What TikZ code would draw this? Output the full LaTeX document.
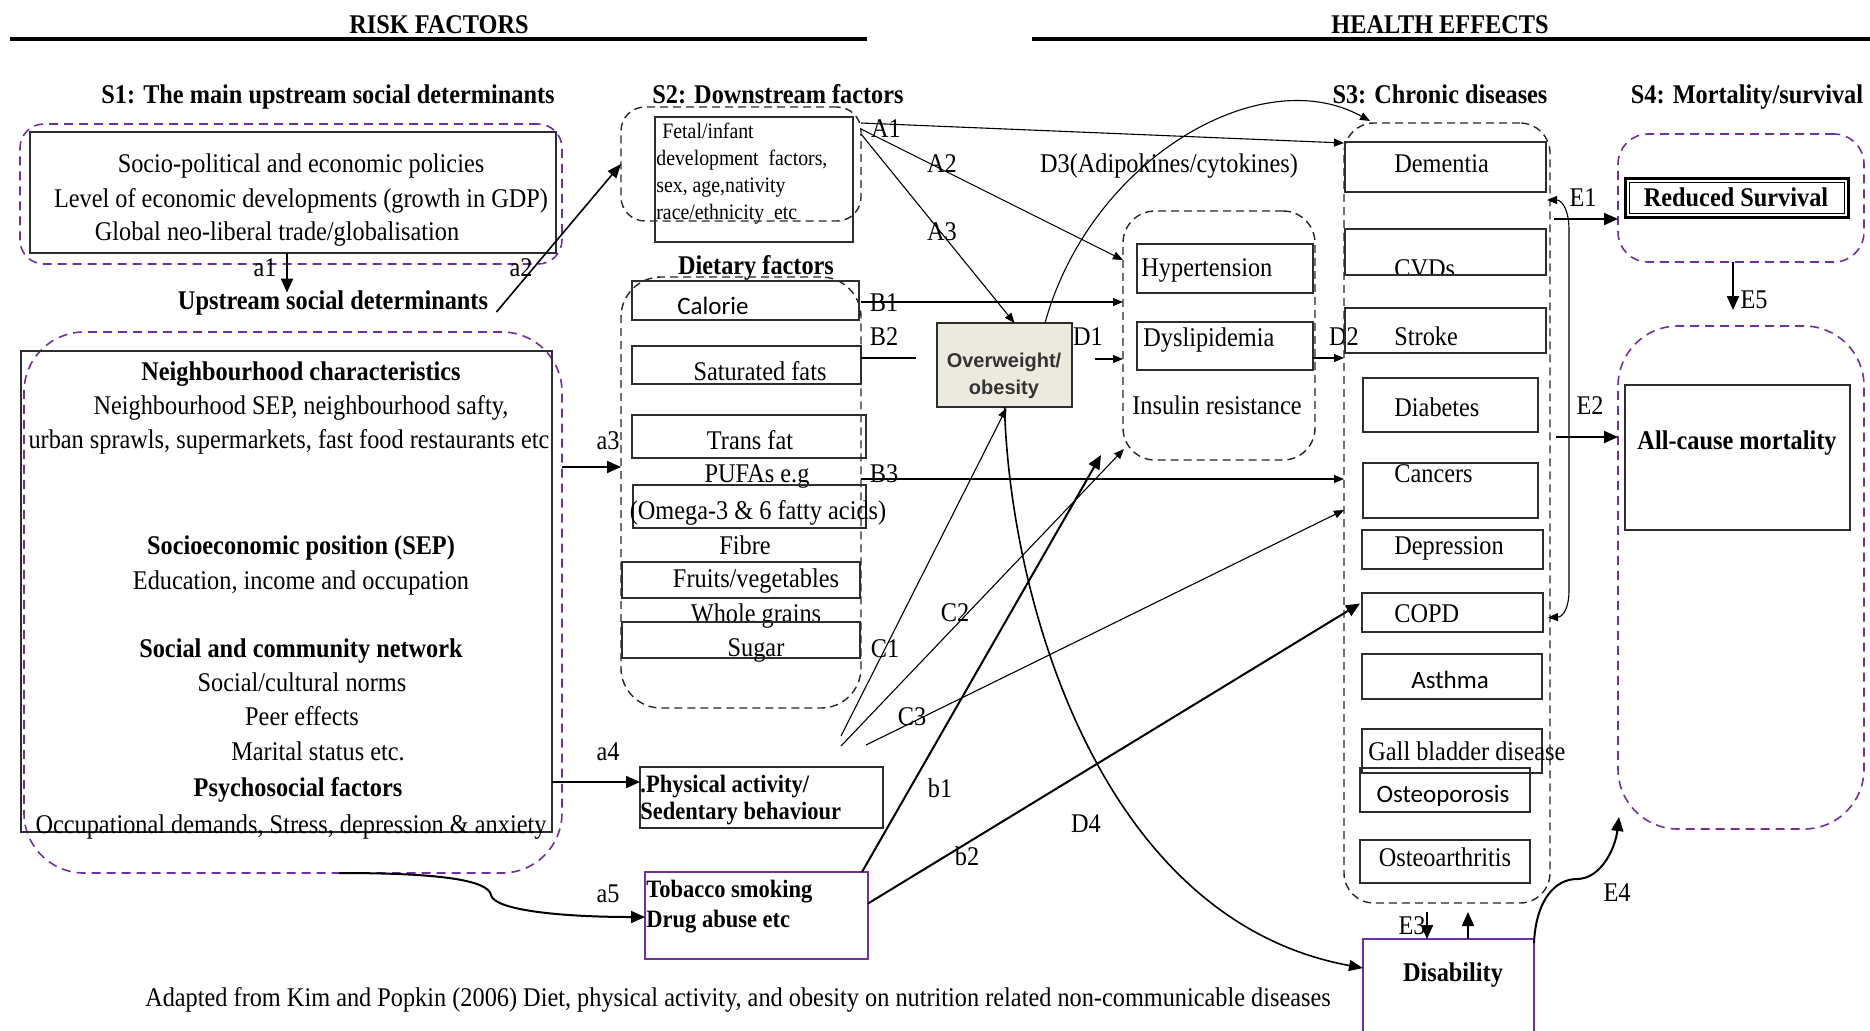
\documentclass[tikz,border=0pt]{standalone}
\usepackage{fontspec}
\setmainfont{Liberation Serif}[FakeStretch=0.9]
\newfontfamily\calfont{Carlito}
\newfontfamily\arialfont{Liberation Sans}
\usetikzlibrary{arrows.meta,calc}
\definecolor{violetline}{RGB}{112,48,160}
\definecolor{obesefill}{RGB}{236,233,223}
\definecolor{boxline}{RGB}{45,45,45}

% rectangle node spanning corner (#3,#4) to corner (#5,#6), in picture units
\newcommand\rectnode[6][]{%
  \node[#1, inner sep=0pt, outer sep=0pt,
        minimum width={(#5-#3)*0.5pt}, minimum height={(#6-#4)*0.5pt}]
        (#2) at ({(#3+#5)/2},{(#4+#6)/2}) {};}

\tikzset{
  txt/.style={inner sep=0pt, text height=0.9em, text depth=0em,
              font=\fontsize{13.5}{16}\selectfont},
  btxt/.style={txt, font=\fontsize{13.5}{16}\selectfont\bfseries},
  stxt/.style={txt, font=\calfont\fontsize{12.5}{15}\selectfont},
  box/.style={draw=boxline, line width=0.9pt},
  pbox/.style={draw=violetline, line width=0.9pt},
  grp/.style={draw=black!85, line width=0.7pt, dash pattern=on 4pt off 2.5pt},
  pgrp/.style={draw=violetline, line width=0.8pt, dash pattern=on 4.5pt off 3pt},
  tarr/.style={line width=0.55pt, -{Triangle[length=5pt,width=4pt]}},
  marr/.style={line width=0.8pt, -{Triangle[length=7pt,width=5.5pt]}},
  karr/.style={line width=1pt, -{Triangle[length=7pt,width=6pt]}},
}

\begin{document}
\begin{tikzpicture}[x=0.5pt,y=-0.5pt]
\useasboundingbox (0,0) rectangle (1870,1030);

% ---------- headings ----------
\node[btxt] (riskhdr) at (439,24) {RISK FACTORS};
\node[btxt] (healthhdr) at (1440,24) {HEALTH EFFECTS};
\draw[line width=1.7pt] (10,39) -- (867,39);
\draw[line width=1.7pt] (1032,39) -- (1870,39);
\node[btxt] (s1hdr) at (328,94) {S1: The main upstream social determinants};
\node[btxt] (s2hdr) at (778,94) {S2: Downstream factors};
\node[btxt] (s3hdr) at (1440,94) {S3: Chronic diseases};
\node[btxt] (s4hdr) at (1747,94) {S4: Mortality/survival};

% ---------- S1: upstream determinants ----------
\rectnode[pgrp, rounded corners=12pt]{s1grp}{20}{124}{562}{264}
\rectnode[box]{upbox}{30}{132}{556}{253}
\node[txt] (up1) at (301,163) {Socio-political and economic policies};
\node[txt] (up2) at (301,198) {Level of economic developments (growth in GDP)};
\node[txt] (up3) at (277,231) {Global neo-liberal trade/globalisation};
\node[btxt] (upsd) at (333,300) {Upstream social determinants};
\node[txt] (la1) at (265,267) {a1};
\node[txt] (la2) at (521,267) {a2};

\rectnode[pgrp, rounded corners=30pt]{s1big}{24}{332}{562}{873}
\rectnode[box]{socbox}{21}{351}{552}{832}
\node[btxt] (n1) at (301,371) {Neighbourhood characteristics};
\node[txt] (n2) at (301,405) {Neighbourhood SEP, neighbourhood safty,};
\node[txt] (n3) at (289,439) {urban sprawls, supermarkets, fast food restaurants etc};
\node[btxt] (n4) at (301,545) {Socioeconomic position (SEP)};
\node[txt] (n5) at (301,580) {Education, income and occupation};
\node[btxt] (n6) at (301,648) {Social and community network};
\node[txt] (n7) at (302,682) {Social/cultural norms};
\node[txt] (n8) at (302,716) {Peer effects};
\node[txt] (n9) at (318,751) {Marital status etc.};
\node[btxt] (n10) at (298,787) {Psychosocial factors};
\node[txt] (n11) at (291,824) {Occupational demands, Stress, depression \& anxiety};
\node[txt] (la3) at (608,440) {a3};
\node[txt] (la4) at (608,751) {a4};
\node[txt] (la5) at (608,893) {a5};

% ---------- S2: downstream factors ----------
\rectnode[grp, rounded corners=12pt]{s2grp}{621}{107}{861}{221}
\rectnode[box]{fetal}{655}{117}{853}{242}
\node[anchor=north west, inner sep=0pt, align=left,
      font=\fontsize{11}{13.5}\selectfont] (fetaltxt) at (656,123)
  {\hspace{3pt}Fetal/infant\\development\ \ factors,\\sex, age,nativity\\race/ethnicity\ \ etc};

\node[btxt] (diethdr) at (756,265) {Dietary factors};
\rectnode[grp, rounded corners=20pt]{dietgrp}{621}{277}{861}{708}
\rectnode[box]{calorie}{632}{281}{859}{320}
\node[stxt, anchor=west] (tcal) at (677,305) {Calorie};
\rectnode[box]{satfat}{632}{346}{861}{384}
\node[txt] (tsat) at (760,371) {Saturated fats};
\rectnode[box]{transfat}{632}{415}{866}{458}
\node[txt] (ttrans) at (750,440) {Trans fat};
\node[txt] (tpufa) at (757,473) {PUFAs e.g};
\rectnode[box]{omega}{633}{485}{866}{528}
\node[txt] (tomega) at (758,510) {(Omega-3 \& 6 fatty acids)};
\node[txt] (tfibre) at (745,545) {Fibre};
\rectnode[box]{fruits}{622}{562}{860}{598}
\node[txt] (tfruit) at (756,578) {Fruits/vegetables};
\node[txt] (tgrain) at (756,613) {Whole grains};
\rectnode[box]{sugar}{622}{622}{860}{658}
\node[txt] (tsugar) at (756,647) {Sugar};

\rectnode[box]{physbox}{640}{767}{883}{828}
\node[txt, anchor=west, font=\bfseries\fontsize{12.5}{15}\selectfont] (tphys1) at (640,783) {.Physical activity/};
\node[txt, anchor=west, font=\bfseries\fontsize{12.5}{15}\selectfont] (tphys2) at (640,810) {Sedentary behaviour};

\rectnode[pbox]{tobacco}{645}{872}{868}{959}
\node[txt, anchor=west, font=\bfseries\fontsize{12.5}{15}\selectfont] (ttob1) at (646,888) {Tobacco smoking};
\node[txt, anchor=west, font=\bfseries\fontsize{12.5}{15}\selectfont] (ttob2) at (646,918) {Drug abuse etc};

% ---------- obesity and intermediate conditions ----------
\rectnode[box, fill=obesefill]{obese}{937}{323}{1072}{407}
\node[inner sep=0pt, align=center, text=black!80,
      font=\arialfont\bfseries\fontsize{10}{13.5}\selectfont] (tobese) at (1004,376) {Overweight/\\obesity};

\rectnode[grp, rounded corners=16pt]{hypgrp}{1123}{211}{1315}{460}
\rectnode[box]{hyp}{1137}{244}{1313}{293}
\node[txt, anchor=west] (thyp) at (1141,267) {Hypertension};
\rectnode[box]{dys}{1137}{322}{1313}{370}
\node[txt, anchor=west] (tdys) at (1143,337) {Dyslipidemia};
\node[txt] (tins) at (1217,405) {Insulin resistance};

\node[txt] (lD3) at (1169,163) {D3(Adipokines/cytokines)};
\node[txt] (lA1) at (886,128) {A1};
\node[txt] (lA2) at (942,163) {A2};
\node[txt] (lA3) at (942,231) {A3};
\node[txt] (lB1) at (884,302) {B1};
\node[txt] (lB2) at (884,336) {B2};
\node[txt] (lD1) at (1088,336) {D1};
\node[txt] (lD2) at (1344,336) {D2};
\node[txt] (lB3) at (884,473) {B3};
\node[txt] (lC1) at (885,648) {C1};
\node[txt] (lC2) at (955,612) {C2};
\node[txt] (lC3) at (912,716) {C3};
\node[txt] (lb1) at (940,788) {b1};
\node[txt] (lb2) at (967,856) {b2};
\node[txt] (lD4) at (1086,823) {D4};

% ---------- S3: chronic diseases ----------
\rectnode[grp, rounded corners=15pt]{s3grp}{1344}{123}{1550}{903}
\rectnode[box]{dementia}{1345}{142}{1546}{192}
\node[txt, anchor=west] (tdem) at (1394,163) {Dementia};
\begin{scope}
  \clip (1345,229) rectangle (1546,275);
  \node[txt, anchor=west] (tcvd) at (1394,268) {CVDs};
\end{scope}
\rectnode[box]{cvd}{1345}{229}{1546}{275}
\rectnode[box]{stroke}{1345}{308}{1546}{353}
\node[txt, anchor=west] (tstroke) at (1394,336) {Stroke};
\rectnode[box]{diabetes}{1363}{378}{1538}{432}
\node[txt, anchor=west] (tdiab) at (1394,407) {Diabetes};
\rectnode[box]{cancers}{1363}{463}{1538}{518}
\node[txt, anchor=west] (tcanc) at (1394,473) {Cancers};
\rectnode[box]{depress}{1362}{530}{1543}{569}
\node[txt, anchor=west] (tdep) at (1394,545) {Depression};
\rectnode[box]{copd}{1362}{593}{1543}{632}
\node[txt, anchor=west] (tcopd) at (1394,613) {COPD};
\rectnode[box]{asthma}{1362}{654}{1542}{699}
\node[stxt] (tasth) at (1450,679) {Asthma};
\rectnode[box]{gall}{1362}{729}{1542}{773}
\node[txt, anchor=west] (tgall) at (1368,751) {Gall bladder disease};
\rectnode[box]{osteop}{1360}{768}{1530}{812}
\node[stxt] (tostp) at (1443,793) {Osteoporosis};
\rectnode[box]{osteoa}{1360}{840}{1530}{883}
\node[txt] (tosta) at (1445,857) {Osteoarthritis};

\rectnode[pbox]{disab}{1363}{939}{1534}{1036}
\node[btxt] (tdisab) at (1453,972) {Disability};
\node[txt] (lE3) at (1412,925) {E3};
\node[txt] (lE4) at (1617,892) {E4};

% ---------- S4: mortality / survival ----------
\rectnode[pgrp, rounded corners=15pt]{survgrp}{1618}{134}{1864}{262}
\rectnode[draw=black, line width=1.5pt]{survbox}{1625}{178}{1848}{217}
\rectnode[draw=black, line width=0.5pt]{survinner}{1629}{182}{1844}{213}
\node[btxt] (tsurv) at (1736,197) {Reduced Survival};
\rectnode[pgrp, rounded corners=30pt]{mortgrp}{1618}{326}{1864}{829}
\rectnode[box]{mortbox}{1625}{385}{1850}{530}
\node[btxt] (tmort) at (1737,440) {All-cause mortality};
\node[txt] (lE1) at (1583,197) {E1};
\node[txt] (lE2) at (1590,405) {E2};
\node[txt] (lE5) at (1754,299) {E5};

% ---------- footer ----------
\node[txt] (source) at (738,997) {Adapted from Kim and Popkin (2006) Diet, physical activity, and obesity on nutrition related non-communicable diseases};

% ---------- helper coordinates ----------
\coordinate (xa1) at (287,0);
\coordinate (ya3) at (0,467);
\coordinate (ya4) at (0,782);
\coordinate (xa5) at (339,0);
\coordinate (yB1) at (0,302);
\coordinate (yB2) at (0,358);
\coordinate (yB3) at (0,479);
\coordinate (yC3) at (0,510);
\coordinate (yD4) at (0,968);
\coordinate (yE1) at (0,219);
\coordinate (yE2) at (0,437);
\coordinate (xE5) at (1733,0);
\coordinate (xE3a) at (1427,0);
\coordinate (xE3b) at (1468,0);
\coordinate (c1s) at (841,736);
\coordinate (c2s) at (841,746);
\coordinate (c3s) at (866,745);
\coordinate (b1e) at (1101,455);

% ---------- connectors: S1 ----------
\draw[karr] (upbox.south -| xa1) -- ($(upsd.north -| xa1)+(0,2)$);
\draw[marr] ($(upsd.east)+(8,12)$) -- (s2grp.west);
\draw[karr] (s1big.east |- ya3) -- (dietgrp.west |- ya3);
\draw[karr] (socbox.east |- ya4) -- (physbox.west |- ya4);
\draw[karr] (s1big.south -| xa5) .. controls (440,873) and (488,880) .. (491,895)
            .. controls (494,910) and (560,917) .. (tobacco.west |- 0,917);

% ---------- connectors: S2 ----------
\draw[tarr] ($(s2grp.north east)+(0,16)$) -- ($(s3grp.north west)+(0,20)$);
\draw[tarr] ($(s2grp.north east)+(0,22)$) -- ($(hypgrp.north west)+(0,49)$);
\draw[tarr] ($(s2grp.north east)+(0,27)$) -- ($(obese.north)+(10,0)$);
\draw[tarr] (dietgrp.east |- yB1) -- (hypgrp.west |- yB1);
\draw[line width=0.55pt] (dietgrp.east |- yB2) -- ($(obese.west |- yB2)+(-21,0)$);
\draw[tarr] ($(obese.east |- yB2)+(23,1)$) -- ($(hypgrp.west |- yB2)+(0,1)$);
\draw[tarr] (dys.east |- yB2) -- (s3grp.west |- yB2);
\draw[tarr] (dietgrp.east |- yB3) -- (s3grp.west |- yB3);
\draw[tarr] (c1s) -- ($(obese.south)+(2,1)$);
\draw[tarr] (c2s) -- ($(hypgrp.south west)+(1,-11)$);
\draw[tarr] (c3s) -- (s3grp.west |- yC3);
\draw[karr] ($(tobacco.north east)+(-6,0)$) -- (b1e);
\draw[karr] ($(tobacco.east)+(0,-12)$) -- ($(copd.west)+(-2,-9)$);

% ---------- connectors: obesity ----------
\draw[tarr] ($(obese.north east)+(-27,0)$) .. controls (1090,160) and (1260,60) .. ($(s3grp.north west)+(26,-2)$);
\draw[marr] (obese.south) .. controls (1010,600) and (1100,920) .. (disab.west |- yD4);

% ---------- connectors: health effects ----------
\draw[line width=0.55pt, {Triangle[length=5pt,width=4pt]}-{Triangle[length=5pt,width=4pt]}]
  ($(dementia.south east)+(1,8)$) .. controls (1562,200) and (1569,210) .. (1569,230)
  -- (1569,590) .. controls (1569,610) and (1562,617) .. ($(copd.east)+(5,5)$);
\draw[karr] ($(s3grp.east |- yE1)+(4,0)$) -- (survgrp.west |- yE1);
\draw[karr] ($(s3grp.east |- yE2)+(6,0)$) -- (mortgrp.west |- yE2);
\draw[karr] (survgrp.south -| xE5) -- ($(mortgrp.north -| xE5)+(0,-16)$);
\draw[karr] ($(s3grp.south -| xE3a)+(0,9)$) -- (disab.north -| xE3a);
\draw[karr] (disab.north -| xE3b) -- ($(s3grp.south -| xE3b)+(0,9)$);
\draw[karr] ($(disab.north east)+(0,4)$) .. controls (1536,900) and (1555,879) .. (1577,879)
            .. controls (1600,879) and (1615,850) .. ($(mortgrp.south west)+(1,-12)$);

\end{tikzpicture}
\end{document}
